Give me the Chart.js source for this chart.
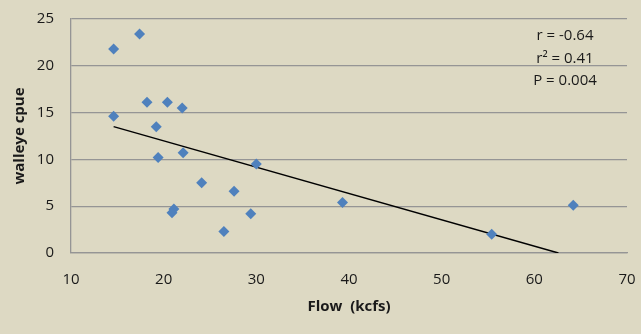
<!DOCTYPE html>
<html>
<head>
<meta charset="utf-8">
<script src="https://cdn.jsdelivr.net/npm/chart.js@4/dist/chart.umd.min.js"></script>
<style>
  html, body { margin: 0; padding: 0; background: #DDD9C3; }
  #wrap { width: 641px; height: 334px; }
</style>
</head>
<body>
<div id="wrap"><canvas id="chart"></canvas></div>
<script>
// walleye catch per unit effort vs river flow
const flow = [14.6, 17.4, 14.6, 18.2, 20.4, 22.0, 19.2, 19.4, 22.1, 30.0, 24.1, 27.6, 21.1, 20.9, 26.5, 29.4, 39.3, 55.4, 64.2];
const cpue = [21.8, 23.4, 14.6, 16.1, 16.1, 15.5, 13.5, 10.2, 10.7, 9.5, 7.5, 6.6, 4.7, 4.3, 2.3, 4.2, 5.4, 2.0, 5.1];

// linear fit drawn in the original
const trendFlow = [14.6, 62.6];
const trendCpue = [13.5, 0];

const statLines = ['r = -0.64', 'r\u00B2 = 0.41', 'P = 0.004'];

const xTitle = 'Flow  (kcfs)';
const yTitle = 'walleye cpue';

const font = "'Open Sans', sans-serif";
const gridColor = '#959595';

const statsText = {
    id: 'statsText',
    afterDatasetsDraw(chart) {
        const ctx = chart.ctx;
        const area = chart.chartArea;
        ctx.save();
        ctx.font = '15px ' + font;
        ctx.fillStyle = '#1a1a1a';
        ctx.textAlign = 'center';
        ctx.textBaseline = 'middle';
        statLines.forEach((t, i) => {
            ctx.fillText(t, area.right - 62, area.top + 17 + i * 22.5);
        });
        ctx.restore();
    }
};

const points = flow.map((x, i) => ({ x: x, y: cpue[i] }));
const trend = trendFlow.map((x, i) => ({ x: x, y: trendCpue[i] }));

new Chart(document.getElementById('chart'), {
    type: 'scatter',
    data: {
        datasets: [{
            data: points,
            pointStyle: 'rectRot',
            pointRadius: 5.5,
            pointHoverRadius: 5.5,
            backgroundColor: '#4F81BD',
            borderColor: '#4F81BD',
            borderWidth: 0
        }, {
            type: 'line',
            data: trend,
            borderColor: '#000000',
            borderWidth: 1.5,
            pointRadius: 0,
            fill: false
        }]
    },
    options: {
        responsive: true,
        maintainAspectRatio: false,
        animation: false,
        layout: { padding: { top: 19, right: 14, left: 0, bottom: 0 } },
        plugins: {
            legend: { display: false },
            tooltip: { enabled: false }
        },
        scales: {
            x: {
                type: 'linear',
                min: 10,
                max: 70,
                ticks: { stepSize: 10, padding: 18, color: '#1a1a1a', font: { family: font, size: 15 } },
                grid: { display: false, drawTicks: false },
                border: { display: true, color: gridColor, width: 1.3 },
                title: {
                    display: true,
                    text: xTitle,
                    color: '#1a1a1a',
                    font: { family: font, size: 15, weight: 'bold' },
                    padding: { top: 0, bottom: 18 }
                },
                afterFit(scale) {
                    scale.height = 81;
                    scale.paddingLeft = 0;
                    scale.paddingRight = 0;
                }
            },
            y: {
                min: 0,
                max: 25,
                ticks: { stepSize: 5, padding: 17, color: '#1a1a1a', font: { family: font, size: 15 } },
                grid: { color: gridColor, lineWidth: 1.3, drawTicks: false },
                border: { display: true, color: gridColor, width: 1.3 },
                title: {
                    display: true,
                    text: yTitle,
                    color: '#1a1a1a',
                    font: { family: font, size: 15, weight: 'bold' },
                    padding: { top: 11, bottom: 0 }
                },
                afterFit(scale) {
                    scale.width = 71;
                    scale.paddingTop = 0;
                    scale.paddingBottom = 0;
                }
            }
        }
    },
    plugins: [statsText]
});
</script>
</body>
</html>
